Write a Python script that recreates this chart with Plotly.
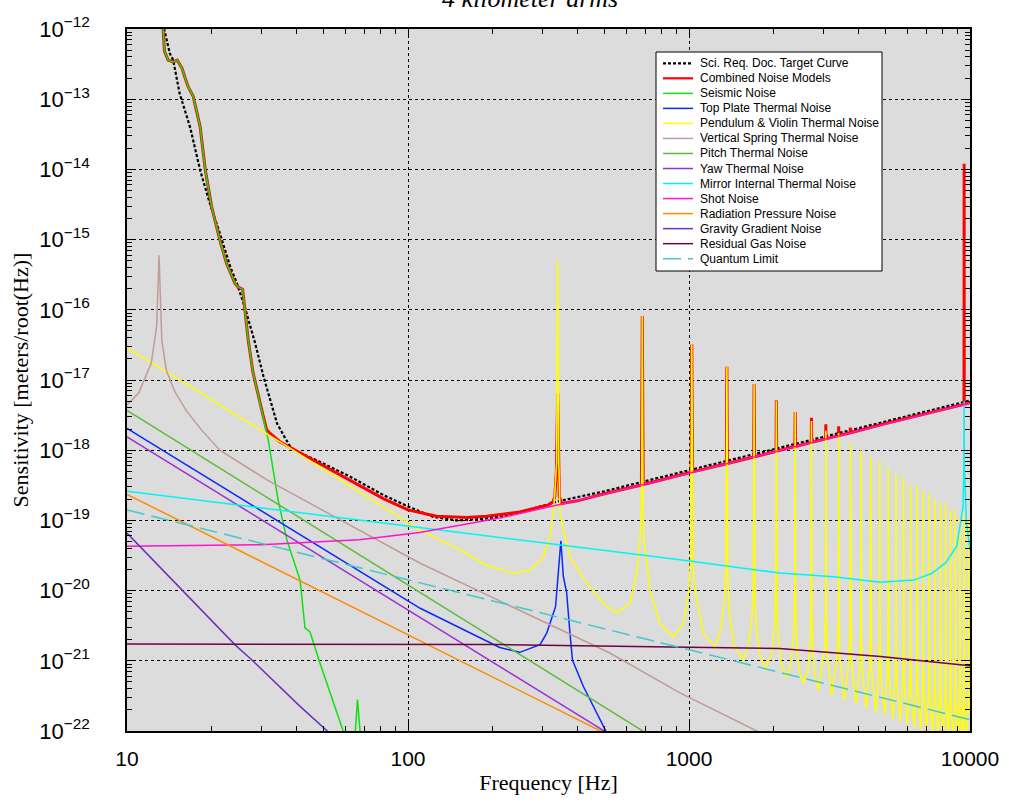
import plotly.graph_objects as go

# ---------------- data (frequency [Hz], sensitivity [m/rtHz]) ----------------
target_pts = [(13.3, 1.4e-12), (13.6, 9.8e-13), (14.2, 4.5e-13), (14.6, 3.6e-13), (15.4, 1.2e-13),
              (16.8, 3.9e-14), (18.2, 9.8e-15), (19.7, 3.3e-15), (21.4, 1.23e-15), (23.3, 4.1e-16),
              (24.6, 2.4e-16), (26.3, 1.07e-16), (28.6, 3.3e-17), (30.6, 1.12e-17), (32.3, 5.2e-18),
              (34.2, 2.4e-18), (36.5, 1.5e-18), (38.5, 1.05e-18), (41.3, 9.1e-19), (47.3, 7.2e-19),
              (62.2, 4.2e-19), (81.7, 2.3e-19), (100, 1.58e-19), (123, 1.12e-19), (149, 1.0e-19),
              (185, 1.05e-19), (231, 1.2e-19), (348, 1.9e-19), (500, 2.6e-19), (1000, 5.15e-19),
              (10000, 5.1e-18)]

combined_pts = [(13.2, 3e-12), (13.4, 1.07e-12), (13.6, 4.8e-13), (14.0, 3.6e-13), (14.6, 3.4e-13),
                (15.1, 3.6e-13), (15.7, 2.75e-13), (16.1, 2.0e-13), (16.5, 1.51e-13), (17.2, 1.1e-13),
                (18.2, 4.1e-14), (19.0, 9.8e-15), (20.0, 2.95e-15), (21.4, 9.8e-16), (22.6, 4.6e-16),
                (24.2, 2.4e-16), (24.9, 2.1e-16), (25.8, 1.95e-16), (26.3, 1.0e-16), (27.0, 3.7e-17),
                (28.1, 1.26e-17), (29.3, 5.9e-18), (30.5, 3.1e-18), (31.4, 1.95e-18), (32.3, 1.74e-18),
                (35.0, 1.32e-18), (38.0, 1.1e-18), (47.3, 6.9e-19), (62.2, 3.8e-19), (81.7, 2.04e-19),
                (100, 1.41e-19), (126.5, 1.15e-19), (161.8, 1.1e-19), (190.6, 1.15e-19), (250, 1.32e-19),
                (316, 1.66e-19), (329, 1.86e-19), (333, 2.2e-19), (337.5, 5.2e-19), (341, 6.5e-18),
                (345.5, 2.2e-19), (352, 1.74e-19), (400, 1.9e-19), (500, 2.4e-19),
                (677, 3.2e-19), (682, 8.1e-17), (687, 3.25e-19),
                (1018, 4.85e-19), (1023, 3.2e-17), (1028, 4.9e-19),
                (1359, 6.4e-19), (1364, 1.55e-17), (1369, 6.45e-19),
                (1700, 8.0e-19), (1705, 8.7e-18), (1710, 8.05e-19),
                (2041, 9.6e-19), (2046, 5.1e-18), (2051, 9.7e-19),
                (2382, 1.13e-18), (2387, 3.5e-18), (2392, 1.13e-18),
                (2723, 1.29e-18), (2728, 2.9e-18), (2733, 1.29e-18),
                (3064, 1.45e-18), (3069, 2.35e-18), (3074, 1.45e-18),
                (3405, 1.61e-18), (3410, 2.2e-18), (3415, 1.61e-18),
                (3746, 1.77e-18), (3751, 2.1e-18), (3756, 1.77e-18),
                (5000, 2.4e-18), (8000, 3.8e-18), (9520, 4.5e-18), (9530, 1.2e-14), (9540, 4.5e-18),
                (10000, 4.75e-18)]

seismic_pts = [(13.2, 3e-12), (13.4, 1.07e-12), (13.6, 4.8e-13), (14.0, 3.6e-13), (14.6, 3.4e-13),
               (15.1, 3.6e-13), (15.7, 2.75e-13), (16.1, 2.0e-13), (16.5, 1.51e-13), (17.2, 1.1e-13),
               (18.2, 4.1e-14), (19.0, 9.8e-15), (20.0, 2.95e-15), (21.4, 9.8e-16), (22.6, 4.6e-16),
               (24.2, 2.4e-16), (24.9, 2.1e-16), (25.8, 1.95e-16), (26.3, 1.0e-16), (27.0, 3.7e-17),
               (28.1, 1.26e-17), (29.3, 5.75e-18), (30.5, 3.0e-18), (31.8, 1.41e-18), (33.2, 4.7e-19),
               (34.5, 1.95e-19), (37.1, 5.2e-20), (41.3, 1.41e-20), (43.0, 2.95e-21), (44.8, 2.57e-21),
               (48.6, 9.3e-22), (54.1, 2.75e-22), (58.7, 1.02e-22), (62.0, 5e-23), (64.7, 8e-23),
               (66.1, 2.8e-22), (67.8, 8e-23), (72.0, 3e-23)]

top_plate_pts = [(10, 2.04e-18), (110.5, 5.6e-21), (212, 1.55e-21), (250, 1.32e-21), (295, 1.7e-21),
                 (312, 2.5e-21), (335, 5.9e-21), (343, 1.78e-20), (350, 5.1e-20), (357, 1.6e-20),
                 (367, 9.3e-21), (377, 2.5e-21), (385, 1.02e-21), (421, 4.3e-22), (507, 9.8e-23),
                 (600, 4e-23)]

pendulum_pts = [(10, 2.9e-17), (38, 1.07e-18), (110.5, 7.2e-20), (145, 4.3e-20), (190, 2.3e-20),
                (237, 1.78e-20), (272, 1.95e-20), (303, 3.0e-20), (320, 5.9e-20), (329, 1.26e-19),
                (333, 2.45e-19), (338, 6.6e-19), (341, 5.1e-16), (344, 6.6e-19), (347.5, 1.26e-19),
                (357, 7.2e-20), (377.6, 3.0e-20), (432.7, 1.26e-20), (495.7, 6.6e-21), (553, 4.8e-21),
                (617, 6.6e-21), (651, 1.78e-20), (669, 5.2e-20), (678, 1.7e-19), (682, 8.1e-17),
                (686, 1.7e-19), (692, 5.2e-20), (726, 1.02e-20), (788, 3.4e-21), (879, 2.2e-21),
                (955, 3.4e-21), (995, 9.1e-21), (1013, 2.5e-20), (1023, 3.2e-17), (1033, 2.5e-20),
                (1050, 1.02e-20), (1124, 2.45e-21), (1237, 1.58e-21),
                (1284, 2.4e-21), (1334, 6.3e-21), (1354, 2.0e-20), (1364, 1.55e-17), (1374, 1.41e-20),
                (1394, 4.5e-21), (1444, 1.66e-21), (1560, 1.02e-21),
                (1625, 1.62e-21), (1675, 4.1e-21), (1695, 1.29e-20), (1705, 8.7e-18), (1715, 1.0e-20),
                (1735, 3.2e-21), (1785, 1.26e-21), (1864, 7.8e-22),
                (1966, 1.23e-21), (2016, 3.1e-21), (2036, 9.8e-21), (2046, 5.0e-18), (2056, 7.2e-21),
                (2076, 2.3e-21), (2126, 9.1e-22), (2227, 5.8e-22),
                (2307, 9.1e-22), (2357, 2.3e-21), (2377, 7.2e-21), (2387, 3.5e-18), (2397, 5.9e-21),
                (2417, 1.86e-21), (2467, 7.4e-22), (2552, 4.7e-22),
                (2648, 7.4e-22), (2698, 1.86e-21), (2718, 5.9e-21), (2728, 2.6e-18), (2738, 4.8e-21),
                (2758, 1.51e-21), (2808, 6.0e-22), (2885, 3.8e-22),
                (3034, 1.51e-21), (3059, 4.8e-21), (3069, 1.9e-18), (3079, 4.1e-21), (3104, 1.29e-21),
                (3220, 3.2e-22),
                (3375, 1.29e-21), (3400, 4.1e-21), (3410, 1.74e-18), (3420, 3.5e-21), (3445, 1.1e-21),
                (3570, 2.75e-22),
                (3716, 1.1e-21), (3741, 3.5e-21), (3751, 1.25e-18), (3761, 3.1e-21), (3786, 9.8e-22),
                (3930, 2.45e-22),
                (4057, 9.8e-22), (4082, 3.1e-21), (4092, 1.0e-18), (4102, 2.6e-21), (4127, 8.3e-22),
                (4265, 2.1e-22),
                (4398, 8.3e-22), (4423, 2.6e-21), (4433, 8.1e-19), (4443, 2.3e-21), (4468, 7.4e-22),
                (4618, 1.86e-22),
                (4739, 7.4e-22), (4764, 2.3e-21), (4774, 6.9e-19), (4784, 2.1e-21), (4809, 6.8e-22),
                (4970, 1.7e-22),
                (5080, 6.8e-22), (5105, 2.1e-21), (5115, 5.7e-19), (5125, 1.9e-21), (5150, 6.0e-22),
                (5309, 1.5e-22),
                (5421, 6.0e-22), (5446, 1.9e-21), (5456, 4.7e-19), (5466, 1.7e-21), (5491, 5.4e-22),
                (5636, 1.35e-22),
                (5762, 5.4e-22), (5787, 1.7e-21), (5797, 4.1e-19), (5807, 1.55e-21), (5832, 4.9e-22),
                (5983, 1.23e-22),
                (6103, 4.9e-22), (6128, 1.55e-21), (6138, 3.2e-19), (6148, 1.41e-21), (6173, 4.5e-22),
                (6320, 1.12e-22),
                (6444, 4.5e-22), (6469, 1.41e-21), (6479, 3.1e-19), (6489, 1.32e-21), (6514, 4.2e-22),
                (6677, 1.05e-22),
                (6785, 4.2e-22), (6810, 1.32e-21), (6820, 2.6e-19), (6830, 1.2e-21), (6855, 3.8e-22),
                (7007, 9.5e-23),
                (7126, 3.8e-22), (7151, 1.2e-21), (7161, 2.45e-19), (7171, 1.12e-21), (7196, 3.5e-22),
                (7348, 8.9e-23),
                (7467, 3.5e-22), (7492, 1.12e-21), (7502, 1.96e-19), (7512, 1.05e-21), (7537, 3.3e-22),
                (7689, 8.3e-23),
                (7808, 3.3e-22), (7833, 1.05e-21), (7843, 1.74e-19), (7853, 1.0e-21), (7878, 3.2e-22),
                (8030, 7.9e-23),
                (8149, 3.2e-22), (8174, 1.0e-21), (8184, 1.74e-19), (8194, 9.3e-22), (8219, 3.0e-22),
                (8371, 7.4e-23),
                (8490, 3.0e-22), (8515, 9.3e-22), (8525, 1.41e-19), (8535, 8.9e-22), (8560, 2.8e-22),
                (8712, 7.1e-23),
                (8831, 2.8e-22), (8856, 8.9e-22), (8866, 1.41e-19), (8876, 8.5e-22), (8901, 2.7e-22),
                (9053, 6.8e-23),
                (9172, 2.7e-22), (9197, 8.5e-22), (9207, 1.12e-19), (9217, 8.1e-22), (9242, 2.6e-22),
                (9394, 6.3e-23),
                (9513, 2.6e-22), (9538, 8.1e-22), (9548, 1.2e-19), (9558, 7.8e-22), (9583, 2.5e-22),
                (9735, 6.0e-23),
                (9854, 2.5e-22), (9879, 7.8e-22), (9889, 1.0e-19), (9899, 7.4e-22), (9924, 2.4e-22),
                (10000, 2.0e-22)]

vertical_spring_pts = [(10, 4.4e-18), (11.0, 6.5e-18), (12.2, 1.74e-17), (12.75, 5.8e-17), (13.0, 6e-16),
                       (13.3, 3.7e-17), (13.8, 1.38e-17), (14.8, 6.8e-18), (16.3, 3.6e-18),
                       (18.5, 1.9e-18), (21.4, 1.0e-18), (31.4, 3.8e-19), (38.0, 2.5e-19),
                       (110.5, 2.45e-20), (523, 1.29e-21), (929, 3.5e-22), (1742, 1.0e-22),
                       (2500, 4.5e-23)]

pitch_pts = [(10, 3.7e-18), (1000, 3.9e-23)]
yaw_pts = [(10, 1.55e-18), (1000, 1.8e-23)]

mirror_pts = [(10, 2.6e-19), (110.5, 7.9e-20), (212, 5.75e-20), (929, 2.75e-20), (2109, 1.78e-20),
              (3270, 1.58e-20), (4790, 1.32e-20), (6300, 1.41e-20), (7300, 1.75e-20), (8200, 2.5e-20),
              (8970, 4.3e-20), (9300, 1.0e-19), (9450, 1.6e-19), (9510, 6e-19), (9530, 5e-18),
              (9550, 6e-19), (9700, 1.0e-19), (10000, 3.8e-20)]

shot_pts = [(10, 4.3e-20), (30, 4.5e-20), (67, 5.3e-20), (110, 6.7e-20), (212, 1.08e-19),
            (345, 1.66e-19), (500, 2.35e-19), (1000, 4.7e-19), (2000, 9.4e-19), (5000, 2.35e-18),
            (10000, 4.7e-18)]

radiation_pts = [(10, 2.35e-19), (1000, 2.35e-23)]

gravity_pts = [(10, 6.6e-20), (24.2, 1.7e-21), (27.9, 1.02e-21), (41.3, 2.24e-22), (51.9, 9.8e-23),
               (60, 5e-23)]

gas_pts = [(10, 1.74e-21), (100, 1.74e-21), (212, 1.7e-21), (1000, 1.56e-21), (2100, 1.5e-21),
           (4800, 1.15e-21), (10000, 8.5e-22)]

quantum_pts = [(10, 1.41e-19), (10000, 1.45e-22)]

x_tick_vals = [10, 100, 1000, 10000]
x_tick_text = ["10", "100", "1000", "10000"]
y_exponents = list(range(-22, -11))

# ---------------- styles ----------------
series = [
    ("Sci. Req. Doc. Target Curve", target_pts, "#000000", 2.2, "3px,2px"),
    ("Combined Noise Models", combined_pts, "#ff0000", 3.0, "solid"),
    ("Seismic Noise", seismic_pts, "#10e010", 1.5, "solid"),
    ("Top Plate Thermal Noise", top_plate_pts, "#0a28ff", 1.5, "solid"),
    ("Pendulum & Violin Thermal Noise", pendulum_pts, "#ffff00", 1.5, "solid"),
    ("Vertical Spring Thermal Noise", vertical_spring_pts, "#c09c98", 1.5, "solid"),
    ("Pitch Thermal Noise", pitch_pts, "#5cbc3c", 1.5, "solid"),
    ("Yaw Thermal Noise", yaw_pts, "#9a30d6", 1.5, "solid"),
    ("Mirror Internal Thermal Noise", mirror_pts, "#00f4f4", 1.5, "solid"),
    ("Shot Noise", shot_pts, "#ff14c8", 1.5, "solid"),
    ("Radiation Pressure Noise", radiation_pts, "#ff8a00", 1.5, "solid"),
    ("Gravity Gradient Noise", gravity_pts, "#6a30c4", 1.5, "solid"),
    ("Residual Gas Noise", gas_pts, "#700044", 1.5, "solid"),
    ("Quantum Limit", quantum_pts, "#44c8c8", 1.5, "18px,7px"),
]

fig = go.Figure()
for name, pts, color, width, dash in series:
    fig.add_trace(go.Scatter(
        x=[p[0] for p in pts], y=[p[1] for p in pts], name=name, mode="lines",
        line=dict(color=color, width=width, dash=dash), showlegend=False, hoverinfo="name+x+y"))

# plot-area geometry (pixels)
L, R, T, B = 127, 970, 29, 731
W, H = 1009, 802


def px_x(px):
    return (px - L) / (R - L)


def px_y(py):
    return (B - py) / (B - T)


minor_x = [m * 10 ** e for e in range(1, 4) for m in range(2, 10)]
minor_y = [m * 10.0 ** e for e in range(-22, -12) for m in range(2, 10)]

axis_common = dict(
    type="log", showline=True, linecolor="black", linewidth=1.5, mirror="allticks",
    ticks="inside", ticklen=9, tickwidth=1, tickcolor="black",
    showgrid=True, gridcolor="black", gridwidth=1, griddash="3px,3px",
    zeroline=False, automargin=False,
)

fig.update_xaxes(
    **axis_common, range=[1, 4], tickvals=x_tick_vals, ticktext=x_tick_text,
    tickfont=dict(family="Liberation Sans", size=21, color="black"), ticklabelstandoff=8,
    minor=dict(tickvals=minor_x, ticks="inside", ticklen=5, tickcolor="black", showgrid=False),
    title=dict(text="Frequency [Hz]", font=dict(family="Liberation Serif", size=22, color="black"),
               standoff=6),
)
fig.update_yaxes(
    **axis_common, range=[-22, -12], tickvals=[10.0 ** e for e in y_exponents],
    ticktext=["10<sup>\u2212%d</sup>" % (-e) for e in y_exponents],
    tickfont=dict(family="Liberation Sans", size=22, color="black"), ticklabelstandoff=31,
    minor=dict(tickvals=minor_y, ticks="inside", ticklen=5, tickcolor="black", showgrid=False),
    title=dict(text="Sensitivity [meters/root(Hz)]",
               font=dict(family="Liberation Serif", size=22, color="black"), standoff=5),
)

# custom legend (compact, as in the original)
shapes = [dict(type="rect", xref="paper", yref="paper", x0=px_x(656), x1=px_x(882),
               y0=px_y(271), y1=px_y(52), fillcolor="white", line=dict(color="black", width=1),
               layer="above")]
annotations = []
for i, (name, pts, color, width, dash) in enumerate(series):
    yy = px_y(63.3 + 15.03 * i)
    shapes.append(dict(type="line", xref="paper", yref="paper", x0=px_x(663), x1=px_x(693),
                       y0=yy, y1=yy, line=dict(color=color, width=min(width, 2.2), dash=dash),
                       layer="above"))
    annotations.append(dict(xref="paper", yref="paper", x=px_x(698), y=yy, text=name,
                            showarrow=False, xanchor="left", yanchor="middle",
                            font=dict(family="Liberation Sans", size=12, color="black")))

annotations.append(dict(xref="paper", yref="paper", x=px_x(530), y=px_y(-2), text="<i>4 kilometer arms</i>",
                        showarrow=False, xanchor="center", yanchor="middle",
                        font=dict(family="Liberation Serif", size=26, color="black")))

fig.update_layout(
    width=W, height=H, margin=dict(l=L, r=W - R, t=T, b=H - B, pad=0),
    paper_bgcolor="white", plot_bgcolor="#dcdcdc", showlegend=False,
    shapes=shapes, annotations=annotations, template="none",
)

fig.write_html("out.html", config={"displayModeBar": False},
               post_script="document.body.style.margin='0';document.body.style.overflow='hidden';")
